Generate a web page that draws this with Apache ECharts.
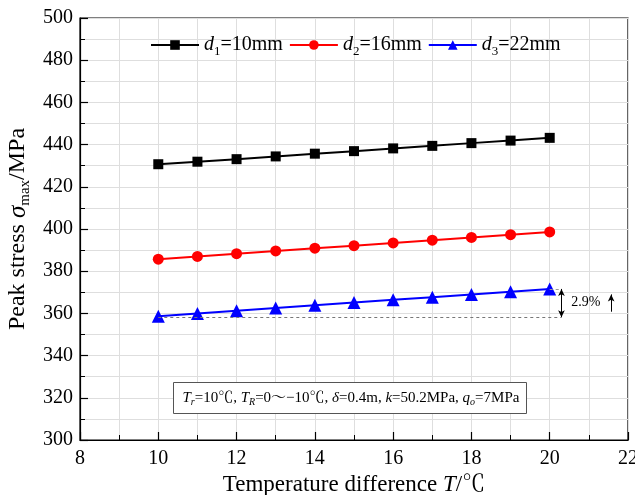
<!DOCTYPE html>
<html>
<head>
<meta charset="utf-8">
<script src="https://cdn.jsdelivr.net/npm/echarts@6/dist/echarts.min.js"></script>
<style>
  html, body { margin: 0; padding: 0; background: #fff; }
  #chart { width: 635px; height: 495px; }
</style>
</head>
<body>
<div id="chart"></div>
<script>
// Temperature difference T (℃)
const temps = [10, 11, 12, 13, 14, 15, 16, 17, 18, 19, 20];
// Peak stress (MPa) for each pipe diameter
const stressD1 = [430.7, 431.9, 433.1, 434.4, 435.7, 436.9, 438.2, 439.4, 440.7, 441.9, 443.2];
const stressD2 = [385.7, 387.0, 388.3, 389.6, 390.9, 392.1, 393.4, 394.7, 396.0, 397.3, 398.6];
const stressD3 = [358.7, 360.0, 361.3, 362.6, 363.9, 365.2, 366.5, 367.7, 369.0, 370.3, 371.6];
const seriesSubs = ['1', '2', '3'];
const seriesDiams = ['10mm', '16mm', '22mm'];
const seriesColors = ['#000000', '#ff0000', '#0000ff'];
const seriesSymbols = ['rect', 'circle', 'triangle'];
const seriesSymbolSizes = [10, 11, 13];
// Increase annotation for the d3 curve
const riseText = '2.9%';
const riseBase = 358.2;
const riseTop = 371.6;
const riseX = 20.3;
const upArrowX = 21.57;
const upArrowFrom = 360.8;
const upArrowTo = 369.0;

const FONT = "'Liberation Serif', 'Times New Roman', 'Noto Serif CJK SC', 'Noto Sans CJK SC', serif";

const chart = echarts.init(document.getElementById('chart'), null, { renderer: 'canvas' });

const names = seriesSubs.map((s, i) => 'd' + s + '=' + seriesDiams[i]);
const seriesData = [stressD1, stressD2, stressD3];

const series = names.map((name, i) => ({
  name: name,
  type: 'line',
  data: temps.map((t, k) => [t, seriesData[i][k]]),
  symbol: seriesSymbols[i],
  symbolSize: seriesSymbolSizes[i],
  showSymbol: true,
  lineStyle: { color: seriesColors[i], width: 2 },
  itemStyle: { color: seriesColors[i] },
  z: 3
}));

// dashed reference lines and arrows for the d3 rise
series[2].markLine = {
  silent: true,
  animation: false,
  symbol: 'none',
  label: { show: false },
  data: [
    [{ coord: [temps[0], riseBase], lineStyle: { color: '#777', type: [3, 3], width: 1 } },
     { coord: [riseX, riseBase] }],
    [{ coord: [temps[temps.length - 1], riseTop], lineStyle: { color: '#999', type: [3, 3], width: 1 } },
     { coord: [riseX, riseTop] }],
    [{ coord: [riseX, riseBase], symbol: 'arrow', symbolSize: [5, 7], lineStyle: { color: '#000', type: 'solid', width: 1 } },
     { coord: [riseX, riseTop], symbol: 'arrow', symbolSize: [5, 7] }],
    [{ coord: [upArrowX, upArrowFrom], symbol: 'none', lineStyle: { color: '#000', type: 'solid', width: 1 } },
     { coord: [upArrowX, upArrowTo], symbol: 'arrow', symbolSize: [5, 7] }]
  ]
};

chart.setOption({
  animation: false,
  backgroundColor: '#fff',
  textStyle: { fontFamily: FONT },
  grid: {
    left: 80, right: 7, top: 18, bottom: 55,
    containLabel: false, outerBoundsMode: 'none',
    show: true, borderColor: '#000', borderWidth: 1.2, backgroundColor: 'transparent'
  },
  legend: {
    top: 30, left: 145,
    itemWidth: 48, itemHeight: 12, itemGap: 6,
    data: names,
    textStyle: {
      fontFamily: FONT, fontSize: 20, color: '#000',
      rich: {
        i: { fontFamily: FONT, fontStyle: 'italic', fontSize: 20, lineHeight: 26, color: '#000' },
        s: { fontFamily: FONT, fontSize: 13, lineHeight: 10, verticalAlign: 'bottom', color: '#000' },
        t: { fontFamily: FONT, fontSize: 20, lineHeight: 26, color: '#000' }
      }
    },
    formatter: function (name) {
      const i = names.indexOf(name);
      return '{i|d}{s|' + seriesSubs[i] + '}{t|=' + seriesDiams[i] + '}';
    }
  },
  xAxis: {
    type: 'value', min: 8, max: 22, interval: 2,
    name: '{t|Temperature difference }{i|T}{t|/℃}',
    nameLocation: 'middle', nameGap: 30,
    nameTextStyle: {
      fontFamily: FONT, fontSize: 23, color: '#000',
      rich: {
        t: { fontFamily: FONT, fontSize: 23, color: '#000' },
        i: { fontFamily: FONT, fontSize: 23, fontStyle: 'italic', color: '#000' }
      }
    },
    axisLine: { show: true, lineStyle: { color: '#000', width: 1.2 } },
    axisTick: { show: true, inside: true, length: 8, lineStyle: { color: '#000', width: 1.2 } },
    minorTick: { show: true, splitNumber: 2, length: 5, lineStyle: { color: '#000', width: 1 } },
    axisLabel: { fontFamily: FONT, fontSize: 20, color: '#000', margin: 9 },
    splitLine: { show: true, lineStyle: { color: '#dedede', width: 1 } },
    minorSplitLine: { show: true, lineStyle: { color: '#dedede', width: 1 } }
  },
  yAxis: {
    type: 'value', min: 300, max: 500, interval: 20,
    name: '{t|Peak stress }{i|σ}{s|max}{t|/MPa}',
    nameLocation: 'middle', nameGap: 42, nameRotate: 90,
    nameTextStyle: {
      fontFamily: FONT, fontSize: 24, color: '#000',
      rich: {
        t: { fontFamily: FONT, fontSize: 24, lineHeight: 28, color: '#000' },
        i: { fontFamily: FONT, fontSize: 25, lineHeight: 28, fontStyle: 'italic', color: '#000' },
        s: { fontFamily: FONT, fontSize: 15, lineHeight: 12, verticalAlign: 'bottom', color: '#000' }
      }
    },
    axisLine: { show: true, lineStyle: { color: '#000', width: 1.2 } },
    axisTick: { show: true, inside: true, length: 8, lineStyle: { color: '#000', width: 1.2 } },
    minorTick: { show: true, splitNumber: 2, length: 5, lineStyle: { color: '#000', width: 1 } },
    axisLabel: { fontFamily: FONT, fontSize: 20, color: '#000', margin: 7 },
    splitLine: { show: true, lineStyle: { color: '#dedede', width: 1 } },
    minorSplitLine: { show: true, lineStyle: { color: '#dedede', width: 1 } }
  },
  series: series
});

// annotation text and the parameter box
const pctPos = chart.convertToPixel({ gridIndex: 0 }, [20.96, (riseBase + riseTop) / 2]);
chart.setOption({
  graphic: [
    {
      type: 'text', left: pctPos[0] - 16, top: pctPos[1] - 8, z: 10,
      style: { text: riseText, fontFamily: FONT, fontSize: 14, fill: '#000' }
    },
    {
      type: 'group', left: 173, top: 382, z: 10,
      children: [
        { type: 'rect', shape: { x: 0, y: 0, width: 353, height: 31 },
          style: { fill: '#fff', stroke: '#555', lineWidth: 1 } },
        { type: 'text', x: 9, y: 6,
          style: {
            text: '{i|T}{s|r}{t|=10℃, }{i|T}{s|R}{t|=0～−10℃, }{i|δ}{t|=0.4m, }{i|k}{t|=50.2MPa, }{i|q}{s|o}{t|=7MPa}',
            rich: {
              t: { fontFamily: FONT, fontSize: 15, lineHeight: 19, fill: '#000' },
              i: { fontFamily: FONT, fontSize: 15, lineHeight: 19, fontStyle: 'italic', fill: '#000' },
              s: { fontFamily: FONT, fontSize: 10, lineHeight: 8, verticalAlign: 'bottom', fontStyle: 'italic', fill: '#000' }
            }
          }
        }
      ]
    }
  ]
});
</script>
</body>
</html>
